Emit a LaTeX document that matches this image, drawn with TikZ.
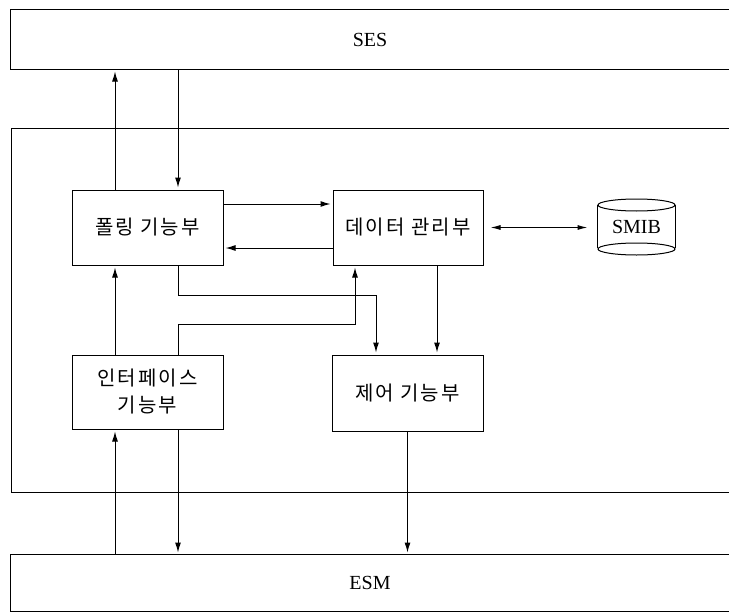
\documentclass[tikz,border=0pt]{standalone}
\usepackage{fontspec}
\setmainfont{Liberation Serif}
\newfontfamily\kor[LetterSpace=10]{Noto Sans CJK KR}
\usepackage{tikz}
\usetikzlibrary{arrows.meta}

\begin{document}
\begin{tikzpicture}[x=1pt,y=-1pt,line width=1pt,
    unit/.style={draw, minimum width=151pt, minimum height=75pt, inner sep=0pt,
        align=center, font=\kor\fontsize{20}{27}\selectfont},
    band/.style={minimum width=718pt, inner sep=0pt, font=\fontsize{20}{24}\selectfont},
    arr/.style={-{Latex[length=10pt,width=6pt]}, shorten >=2pt},
    dbl/.style={{Latex[length=10pt,width=5pt]}-{Latex[length=10pt,width=5pt]}}]
    \useasboundingbox (0,0) rectangle (729,613);

    \node[band, minimum height=59pt] (ses) at (370,39.5) {SES};
    \node[band, minimum height=56pt] (esm) at (370,583) {ESM};

    \coordinate (FA) at (11,128);
    \coordinate (FB) at (11,492);

    \node[unit] (poll) at (147.5,227.5) {폴링 기능부};
    \node[unit, minimum width=150pt] (data) at (408,227.5) {데이터 관리부};
    \node[unit, minimum height=74pt] (iface) at (147.5,392) {인터페이스\\기능부};
    \node[unit, minimum height=76pt] (ctrl) at (407.5,393) {제어 기능부};
    \node[minimum width=77pt, minimum height=55pt, inner sep=0pt,
        font=\fontsize{20}{24}\selectfont] (smib) at (636.5,227) {SMIB};

    \coordinate (la) at (115,0);
    \coordinate (lb) at (178,0);
    \coordinate (lc) at (355,0);
    \coordinate (ld) at (376,0);
    \coordinate (le) at (437,0);
    \coordinate (ra) at (0,204);
    \coordinate (rb) at (0,248);
    \coordinate (rc) at (0,295);
    \coordinate (rd) at (0,324);

    \draw (ses.north east) -- (ses.north west) -- (ses.south west) -- (ses.south east);
    \draw (esm.north east) -- (esm.north west) -- (esm.south west) -- (esm.south east);
    \draw (729,128) -- (FA) -- (FB) -- (729,492);

    \draw (smib.north west) ++(0,6) -- ++(0,43);
    \draw (smib.north east) ++(0,6) -- ++(0,43);
    \draw (smib.north) ++(0,6) ellipse [x radius=38.5pt, y radius=6pt];
    \draw (smib.south) ++(0,-6) ellipse [x radius=38.5pt, y radius=6pt];

    \draw[arr] (poll.north -| la) -- (ses.south -| la);
    \draw[arr] (ses.south -| lb) -- (poll.north -| lb);
    \draw[arr] (poll.east |- ra) -- (data.west |- ra);
    \draw[arr] (data.west |- rb) -- (poll.east |- rb);
    \draw[dbl, shorten <=7pt, shorten >=10pt] (data.east) -- (data.east -| smib.west);

    \draw[arr] (iface.north -| la) -- (poll.south -| la);
    \draw[arr] (poll.south -| lb) |- (ld |- rc) -- (ctrl.north -| ld);
    \draw[arr] (iface.north -| lb) |- (lc |- rd) -- (data.south -| lc);
    \draw[arr] (data.south -| le) -- (ctrl.north -| le);

    \draw[arr] (esm.north -| la) -- (iface.south -| la);
    \draw[arr] (iface.south -| lb) -- (esm.north -| lb);
    \draw[arr] (ctrl.south) -- (esm.north -| ctrl.south);
\end{tikzpicture}
\end{document}
